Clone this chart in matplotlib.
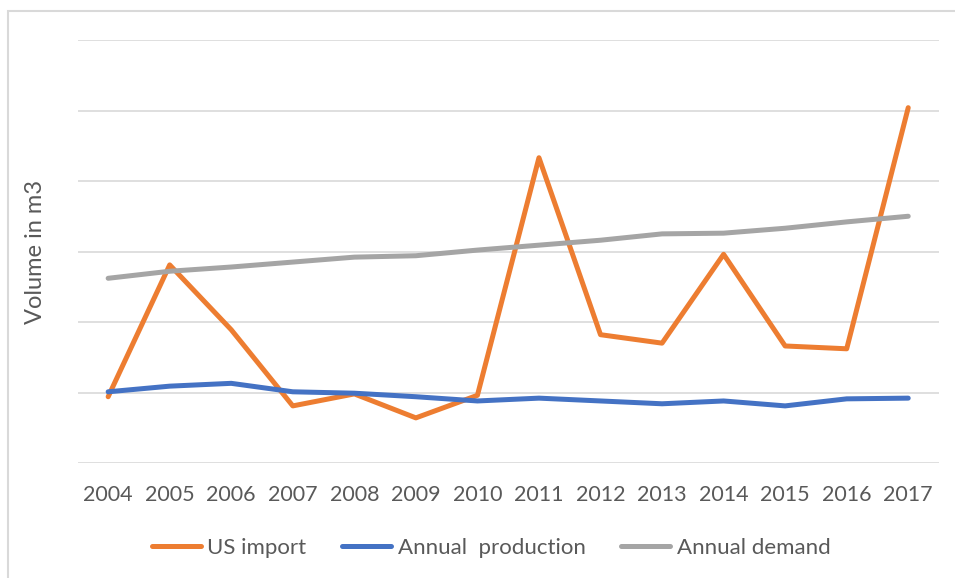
import numpy as np
import matplotlib
matplotlib.use('Agg')
import matplotlib.pyplot as plt
from matplotlib.patches import Rectangle

#---------------------------------- DATA -----------------------------------
years = ['2004','2005','2006','2007','2008','2009','2010',
         '2011','2012','2013','2014','2015','2016','2017']
us_import = [0.94,2.81,1.89,0.81,0.98,0.64,0.96,4.33,1.82,1.70,2.96,1.66,1.62,5.04]
production = [1.01,1.09,1.13,1.01,0.99,0.94,0.88,0.92,0.88,0.84,0.88,0.81,0.91,0.92]
demand = [2.62,2.72,2.78,2.85,2.92,2.94,3.02,3.09,3.16,3.25,3.26,3.33,3.42,3.50]

#---------------------------------- PLOT -----------------------------------
plt.rcParams['font.family'] = ['Lato', 'DejaVu Sans']
txtc = '#595959'

fig = plt.figure(figsize=(9.55,5.78), dpi=100)
ax = fig.add_axes([78/955, 115/578, 861/955, 423/578])
# outer chart frame
fig.patches.append(Rectangle((8/955, -0.1), 1.2, (567+58)/578, transform=fig.transFigure,
                             fill=False, ec='#D9D9D9', lw=1.5))

x = np.arange(len(years))
kw = dict(lw=3.6, solid_capstyle='round', solid_joinstyle='round')
ax.plot(x, us_import, color='#ED7D31', label='US import', **kw)
ax.plot(x, production, color='#4472C4', label='Annual  production', **kw)
ax.plot(x, demand, color='#A5A5A5', label='Annual demand', **kw)

ax.set_xlim(-0.49, 13.5)
ax.set_ylim(0, 6)
ax.set_yticks(np.arange(0, 7))
ax.set_yticklabels([])
ax.set_xticks(x)
ax.set_xticklabels(years, fontsize=15.5, color=txtc)
ax.tick_params(axis='both', length=0)
ax.tick_params(axis='x', pad=16)
ax.grid(axis='y', color='#D9D9D9', lw=1.2)
ax.set_axisbelow(True)
for s in ax.spines.values():
    s.set_visible(False)

fig.text(35/955, 1-252/578, 'Volume in m3', rotation=90, fontsize=17, color=txtc,
         ha='center', va='center')

leg = fig.legend(loc='center', bbox_to_anchor=(491/955, 1-548/578), ncol=3, frameon=False,
                 fontsize=16, handlelength=2.2, handletextpad=0.3, columnspacing=1.6)
for t in leg.get_texts():
    t.set_color(txtc)

fig.savefig('out.png', dpi=100)
